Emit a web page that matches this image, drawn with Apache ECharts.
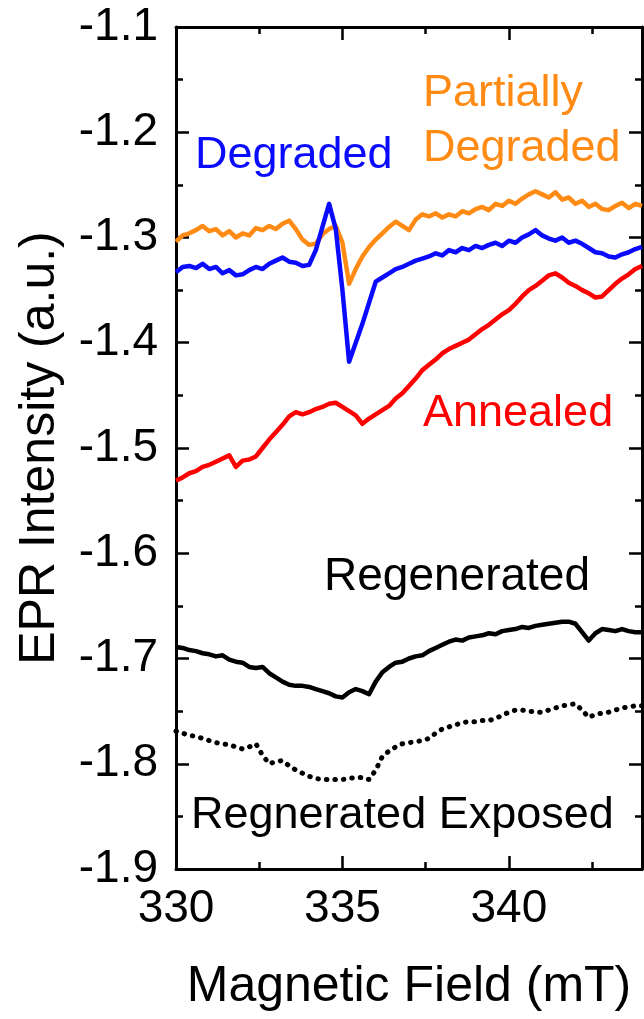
<!DOCTYPE html>
<html>
<head>
<meta charset="utf-8">
<script src="https://cdn.jsdelivr.net/npm/echarts@6/dist/echarts.min.js"></script>
<style>
html,body{margin:0;padding:0;background:#fff;}
#chart{width:644px;height:1019px;}
</style>
</head>
<body>
<div id="chart"></div>
<script>
// Magnetic field (mT), 330 to 344 in 0.2 mT steps
const field = [
330.0,330.2,330.4,330.6,330.8,331.0,331.2,331.4,331.6,331.8,
332.0,332.2,332.4,332.6,332.8,333.0,333.2,333.4,333.6,333.8,
334.0,334.2,334.4,334.6,334.8,335.0,335.2,335.4,335.6,335.8,
336.0,336.2,336.4,336.6,336.8,337.0,337.2,337.4,337.6,337.8,
338.0,338.2,338.4,338.6,338.8,339.0,339.2,339.4,339.6,339.8,
340.0,340.2,340.4,340.6,340.8,341.0,341.2,341.4,341.6,341.8,
342.0,342.2,342.4,342.6,342.8,343.0,343.2,343.4,343.6,343.8,
344.0];

const partiallyDegraded = [
-1.304,-1.298,-1.296,-1.293,-1.289,-1.294,-1.292,-1.298,-1.294,-1.300,
-1.296,-1.298,-1.291,-1.293,-1.289,-1.292,-1.287,-1.284,-1.292,-1.302,
-1.307,-1.306,-1.297,-1.292,-1.289,-1.305,-1.344,-1.330,-1.318,-1.309,
-1.302,-1.296,-1.290,-1.285,-1.289,-1.293,-1.283,-1.278,-1.280,-1.277,
-1.281,-1.278,-1.280,-1.275,-1.277,-1.273,-1.271,-1.274,-1.268,-1.270,
-1.265,-1.268,-1.263,-1.259,-1.256,-1.259,-1.262,-1.257,-1.264,-1.262,
-1.268,-1.265,-1.271,-1.268,-1.273,-1.274,-1.270,-1.267,-1.272,-1.268,
-1.270];

const degraded = [
-1.333,-1.328,-1.327,-1.329,-1.325,-1.330,-1.328,-1.334,-1.331,-1.336,
-1.335,-1.331,-1.328,-1.330,-1.325,-1.322,-1.319,-1.323,-1.324,-1.327,
-1.326,-1.312,-1.290,-1.268,-1.292,-1.350,-1.418,-1.400,-1.382,-1.362,
-1.342,-1.338,-1.334,-1.330,-1.328,-1.325,-1.322,-1.320,-1.318,-1.315,
-1.317,-1.312,-1.314,-1.310,-1.312,-1.308,-1.310,-1.307,-1.305,-1.308,
-1.303,-1.305,-1.300,-1.297,-1.293,-1.298,-1.301,-1.303,-1.300,-1.305,
-1.303,-1.306,-1.310,-1.314,-1.315,-1.318,-1.319,-1.316,-1.314,-1.311,
-1.309];

const annealed = [
-1.531,-1.528,-1.524,-1.522,-1.518,-1.516,-1.513,-1.510,-1.507,-1.518,
-1.512,-1.511,-1.508,-1.500,-1.492,-1.485,-1.478,-1.470,-1.466,-1.468,
-1.466,-1.463,-1.461,-1.458,-1.457,-1.461,-1.465,-1.469,-1.477,-1.472,
-1.468,-1.464,-1.460,-1.453,-1.448,-1.441,-1.434,-1.426,-1.421,-1.416,
-1.410,-1.406,-1.403,-1.400,-1.397,-1.392,-1.387,-1.383,-1.378,-1.373,
-1.369,-1.363,-1.356,-1.350,-1.346,-1.341,-1.336,-1.334,-1.338,-1.343,
-1.346,-1.350,-1.353,-1.357,-1.356,-1.350,-1.344,-1.339,-1.335,-1.330,
-1.327];

const regenerated = [
-1.689,-1.690,-1.692,-1.693,-1.695,-1.696,-1.698,-1.697,-1.701,-1.703,
-1.704,-1.708,-1.709,-1.708,-1.714,-1.718,-1.722,-1.725,-1.726,-1.726,
-1.727,-1.729,-1.731,-1.733,-1.736,-1.737,-1.732,-1.729,-1.731,-1.734,
-1.722,-1.713,-1.708,-1.704,-1.703,-1.700,-1.698,-1.697,-1.693,-1.690,
-1.687,-1.684,-1.682,-1.683,-1.680,-1.679,-1.678,-1.676,-1.677,-1.674,
-1.673,-1.672,-1.670,-1.671,-1.669,-1.668,-1.667,-1.666,-1.665,-1.665,
-1.667,-1.675,-1.683,-1.676,-1.672,-1.673,-1.674,-1.672,-1.674,-1.675,
-1.675];

const regeneratedExposed = [
-1.769,-1.771,-1.773,-1.774,-1.776,-1.778,-1.780,-1.781,-1.782,-1.784,
-1.786,-1.784,-1.781,-1.792,-1.800,-1.798,-1.797,-1.802,-1.806,-1.809,
-1.812,-1.814,-1.815,-1.815,-1.815,-1.815,-1.814,-1.813,-1.813,-1.815,
-1.806,-1.793,-1.788,-1.784,-1.781,-1.780,-1.779,-1.778,-1.776,-1.771,
-1.767,-1.765,-1.763,-1.761,-1.760,-1.760,-1.759,-1.759,-1.757,-1.754,
-1.751,-1.749,-1.749,-1.750,-1.751,-1.751,-1.749,-1.747,-1.745,-1.744,
-1.743,-1.749,-1.756,-1.753,-1.752,-1.751,-1.749,-1.747,-1.746,-1.745,
-1.745];

const xTickLabels = ['330', '335', '340'];
const yTickLabels = ['-1.9','-1.8','-1.7','-1.6','-1.5','-1.4','-1.3','-1.2','-1.1'];

const FONT = "'Liberation Sans', Arial, Helvetica, sans-serif";
const pair = (ys) => field.map((x, i) => [x, ys[i]]);

const chart = echarts.init(document.getElementById('chart'), null, {renderer: 'canvas'});

const tickCommon = {
  axisLine: {show: true, lineStyle: {color: '#000', width: 3}},
  axisTick: {show: true, inside: true, length: 13, lineStyle: {color: '#000', width: 2.5}},
  minorTick: {show: true, splitNumber: 2, length: 7, lineStyle: {color: '#000', width: 2.5}},
  splitLine: {show: false},
  minorSplitLine: {show: false}
};

const option = {
  animation: false,
  backgroundColor: '#fff',
  grid: {left: 176, right: 2, top: 27, bottom: 150, containLabel: false},
  xAxis: [
    Object.assign({
      type: 'value', min: 330, max: 344, interval: 5, position: 'bottom',
      name: 'Magnetic Field (mT)', nameLocation: 'middle', nameGap: 93,
      nameTextStyle: {fontFamily: FONT, fontSize: 50, color: '#000'},
      axisLabel: {
        show: true, margin: 17, fontFamily: FONT, fontSize: 46, color: '#000',
        showMaxLabel: false,
        formatter: (v) => { const s = String(Math.round(v)); return xTickLabels.indexOf(s) >= 0 ? s : ''; }
      }
    }, tickCommon),
    Object.assign({
      type: 'value', min: 330, max: 344, interval: 5, position: 'top',
      axisLabel: {show: false}
    }, tickCommon)
  ],
  yAxis: [
    Object.assign({
      type: 'value', min: -1.9, max: -1.1, interval: 0.1, position: 'left',
      name: 'EPR Intensity (a.u.)', nameLocation: 'middle', nameGap: 111,
      nameTextStyle: {fontFamily: FONT, fontSize: 50, color: '#000'},
      axisLabel: {
        show: true, margin: 18, fontFamily: FONT, fontSize: 46, color: '#000',
        formatter: (v) => { const s = v.toFixed(1); return yTickLabels.indexOf(s) >= 0 ? s : ''; }
      }
    }, tickCommon),
    Object.assign({
      type: 'value', min: -1.9, max: -1.1, interval: 0.1, position: 'right',
      axisLabel: {show: false}
    }, tickCommon)
  ],
  series: [
    {name: 'Partially Degraded', type: 'line', data: pair(partiallyDegraded), showSymbol: false,
     lineStyle: {color: '#ff8a14', width: 4.5, join: 'round'}, z: 3},
    {name: 'Degraded', type: 'line', data: pair(degraded), showSymbol: false,
     lineStyle: {color: '#0a0aff', width: 4.5, join: 'round'}, z: 4},
    {name: 'Annealed', type: 'line', data: pair(annealed), showSymbol: false,
     lineStyle: {color: '#ff0000', width: 4.5, join: 'round'}, z: 3},
    {name: 'Regenerated', type: 'line', data: pair(regenerated), showSymbol: false,
     lineStyle: {color: '#000', width: 4.5, join: 'round'}, z: 3},
    {name: 'Regnerated Exposed', type: 'line', data: pair(regeneratedExposed), showSymbol: false,
     lineStyle: {color: '#000', width: 5, type: [0.5, 8], cap: 'round'}, z: 3}
  ],
  graphic: [
    {type: 'text', style: {text: 'Partially', x: 423, y: 94, font: '45px ' + FONT, fill: '#ff8a14', textAlign: 'left', textVerticalAlign: 'middle'}},
    {type: 'text', style: {text: 'Degraded', x: 423, y: 149, font: '45px ' + FONT, fill: '#ff8a14', textAlign: 'left', textVerticalAlign: 'middle'}},
    {type: 'text', style: {text: 'Degraded', x: 195, y: 156, font: '45px ' + FONT, fill: '#0a0aff', textAlign: 'left', textVerticalAlign: 'middle'}},
    {type: 'text', style: {text: 'Annealed', x: 423, y: 414, font: '45px ' + FONT, fill: '#ff0000', textAlign: 'left', textVerticalAlign: 'middle'}},
    {type: 'text', style: {text: 'Regenerated', x: 324, y: 577, font: '46px ' + FONT, fill: '#000', textAlign: 'left', textVerticalAlign: 'middle'}},
    {type: 'text', style: {text: 'Regnerated Exposed', x: 191, y: 816, font: '45px ' + FONT, fill: '#000', textAlign: 'left', textVerticalAlign: 'middle'}}
  ]
};
chart.setOption(option);
</script>
</body>
</html>
